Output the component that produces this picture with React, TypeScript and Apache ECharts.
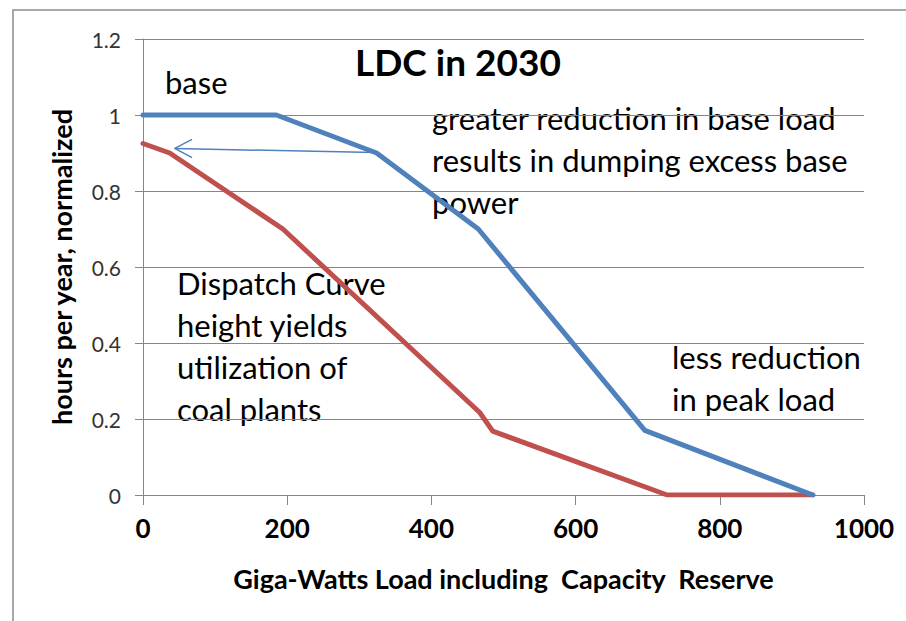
import React, { useEffect, useRef } from "react";
import * as echarts from "echarts";

// Load duration curves (x: GW, y: normalized hours per year)
const blueLDC: [number, number][] = [
  [0, 1.0], [185, 1.0], [324, 0.9], [465, 0.7], [696, 0.17], [929, 0.0],
];
const redLDC: [number, number][] = [
  [0, 0.925], [37, 0.9], [194, 0.7], [467, 0.217], [485, 0.168], [727, 0.0], [929, 0.0],
];
// Annotation arrow (shaft and open head), in data units
const arrowShaft: [number, number][] = [[322, 0.901], [44, 0.912]];
const arrowHead: [number, number][] = [[68, 0.936], [44, 0.912], [68, 0.888]];

const xTicks = [0, 200, 400, 600, 800, 1000];
const yTicks = [0, 0.2, 0.4, 0.6, 0.8, 1, 1.2];

const titleText = "LDC in 2030";
const xTitle = "Giga-Watts Load including  Capacity  Reserve";
const yTitle = "hours per year, normalized";
const noteBase = "base";
const noteGreater = "greater reduction in base load\nresults in dumping excess base\npower";
const noteDispatch = "Dispatch Curve\nheight yields\nutilization of\ncoal plants";
const noteLess = "less reduction\nin peak load";

const FONT = "Lato, 'Open Sans', sans-serif";

export default function App() {
  const ref = useRef<HTMLDivElement>(null);
  useEffect(() => {
    if (!ref.current) return;
    const chart = echarts.init(ref.current, null, { renderer: "svg" });
    const noteStyle = {
      fill: "#000",
      fontFamily: FONT,
      fontSize: 31,
      lineHeight: 42,
      verticalAlign: "top",
      align: "left",
    };
    chart.setOption({
      animation: false,
      backgroundColor: "#fff",
      grid: { left: 143, right: 42, top: 39, bottom: 126, containLabel: false },
      xAxis: {
        type: "value",
        min: xTicks[0],
        max: xTicks[xTicks.length - 1],
        interval: 200,
        name: xTitle,
        nameLocation: "middle",
        nameGap: 70,
        nameTextStyle: { fontFamily: FONT, fontWeight: "bold", fontSize: 27, color: "#000" },
        axisLine: { show: true, lineStyle: { color: "#868686", width: 1 } },
        axisTick: { show: true, length: 10, lineStyle: { color: "#868686" } },
        axisLabel: {
          fontFamily: FONT,
          fontWeight: "bold",
          fontSize: 26,
          color: "#000",
          margin: 20,
          formatter: (v: number) => String(v),
        },
        splitLine: { show: false },
      },
      yAxis: {
        type: "value",
        min: yTicks[0],
        max: yTicks[yTicks.length - 1],
        interval: 0.2,
        name: yTitle,
        nameLocation: "middle",
        nameGap: 68,
        nameTextStyle: { fontFamily: FONT, fontWeight: "bold", fontSize: 27, color: "#000" },
        axisLine: { show: true, lineStyle: { color: "#868686", width: 1 } },
        axisTick: { show: true, length: 8, lineStyle: { color: "#868686" } },
        axisLabel: {
          fontFamily: FONT,
          fontSize: 21,
          color: "#333",
          margin: 22,
          formatter: (v: number) => String(Math.round(v * 10) / 10),
        },
        splitLine: { show: true, lineStyle: { color: "#868686", width: 1 } },
      },
      series: [
        {
          type: "line",
          data: redLDC,
          showSymbol: false,
          symbol: "none",
          lineStyle: { color: "#C0504D", width: 5, cap: "round", join: "round" },
          z: 3,
        },
        {
          type: "line",
          data: blueLDC,
          showSymbol: false,
          symbol: "none",
          lineStyle: { color: "#4F81BD", width: 5, cap: "round", join: "round" },
          z: 4,
        },
        {
          type: "line",
          data: arrowShaft,
          symbol: "none",
          lineStyle: { color: "#4F81BD", width: 1.5 },
          z: 5,
        },
        {
          type: "line",
          data: arrowHead,
          symbol: "none",
          lineStyle: { color: "#4F81BD", width: 1.5 },
          z: 5,
        },
      ],
      graphic: [
        {
          type: "rect",
          shape: { x: 13, y: 10, width: 1200, height: 1000 },
          style: { fill: "none", stroke: "#8c8c8c", lineWidth: 1.5 },
          silent: true,
        },
        {
          type: "text",
          x: 355,
          y: 61,
          style: {
            text: titleText,
            fill: "#000",
            fontFamily: FONT,
            fontWeight: "bold",
            fontSize: 37,
            verticalAlign: "middle",
            align: "left",
          },
        },
        { type: "text", x: 165, y: 61, style: { ...noteStyle, text: noteBase } },
        { type: "text", x: 432, y: 97, style: { ...noteStyle, text: noteGreater } },
        { type: "text", x: 177, y: 262, style: { ...noteStyle, text: noteDispatch } },
        { type: "text", x: 672, y: 336, style: { ...noteStyle, text: noteLess } },
      ],
    });
    return () => chart.dispose();
  }, []);
  return (
    <div
      ref={ref}
      style={{ position: "fixed", left: 0, top: 0, width: 906, height: 621 }}
    />
  );
}
